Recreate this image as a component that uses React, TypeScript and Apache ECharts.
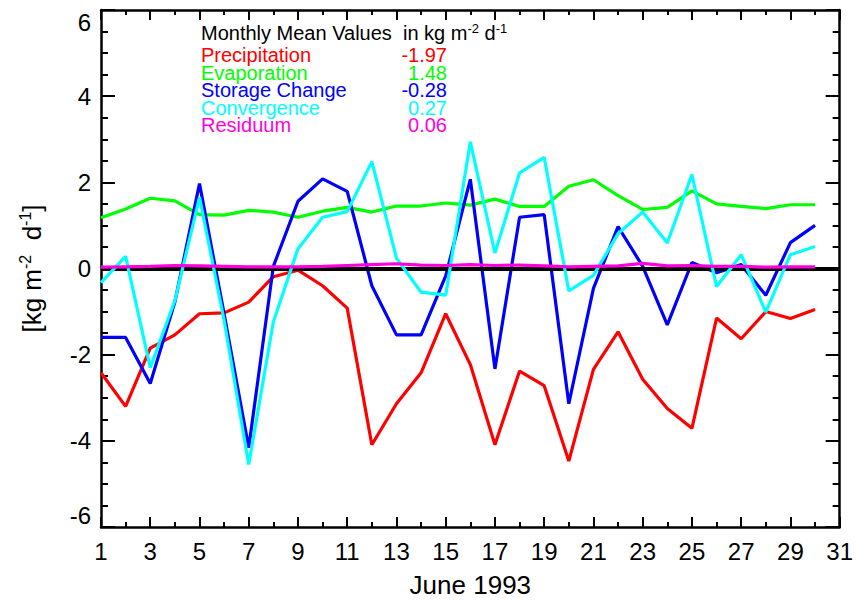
import React, { useEffect, useRef } from 'react';
import * as echarts from 'echarts';

const days = [1, 2, 3, 4, 5, 6, 7, 8, 9, 10, 11, 12, 13, 14, 15, 16, 17, 18, 19, 20, 21, 22, 23, 24, 25, 26, 27, 28, 29, 30];

const precipitation = [-2.42, -3.2, -1.85, -1.54, -1.05, -1.03, -0.78, -0.19, -0.04, -0.4, -0.92, -4.09, -3.14, -2.42, -1.05, -2.23, -4.09, -2.38, -2.72, -4.47, -2.34, -1.47, -2.57, -3.25, -3.71, -1.15, -1.63, -1.0, -1.16, -0.95];
const evaporation = [1.18, 1.38, 1.63, 1.57, 1.25, 1.24, 1.35, 1.31, 1.19, 1.33, 1.42, 1.31, 1.45, 1.45, 1.52, 1.47, 1.61, 1.44, 1.44, 1.91, 2.06, 1.69, 1.37, 1.42, 1.8, 1.5, 1.44, 1.39, 1.48, 1.48];
const storageChange = [-1.6, -1.6, -2.67, -0.78, 1.97, -1.05, -4.16, 0.05, 1.56, 2.08, 1.79, -0.4, -1.54, -1.54, -0.17, 2.07, -2.33, 1.19, 1.25, -3.14, -0.46, 0.97, 0.05, -1.31, 0.14, -0.1, 0.09, -0.62, 0.6, 1.0];
const convergence = [-0.33, 0.28, -2.3, -0.75, 1.65, -1.2, -4.55, -1.24, 0.46, 1.19, 1.32, 2.48, 0.24, -0.55, -0.62, 2.94, 0.36, 2.22, 2.58, -0.52, -0.16, 0.81, 1.31, 0.59, 2.18, -0.42, 0.32, -1.01, 0.32, 0.51];
const residuum = [0.03, 0.04, 0.05, 0.07, 0.06, 0.05, 0.04, 0.04, 0.04, 0.05, 0.07, 0.09, 0.11, 0.08, 0.07, 0.09, 0.07, 0.08, 0.06, 0.04, 0.05, 0.06, 0.12, 0.06, 0.07, 0.05, 0.05, 0.03, 0.04, 0.04];

const seriesNames = ['Precipitation', 'Evaporation', 'Storage Change', 'Convergence', 'Residuum'];
const monthlyMeans = ['-1.97', '1.48', '-0.28', '0.27', '0.06'];
const seriesColors = ['#ff0000', '#00ff00', '#0000ff', '#00ffff', '#ff00dd'];

const xMin = 1;
const xMax = 31;
const xInterval = 2;
const yMin = -6;
const yMax = 6;
const yInterval = 2;

const FONT = '"Liberation Sans", Arial, Helvetica, sans-serif';

export default function App() {
  const ref = useRef<HTMLDivElement>(null);

  useEffect(() => {
    if (!ref.current) return;
    const chart = echarts.init(ref.current, undefined, { renderer: 'svg' });
    const allValues = [precipitation, evaporation, storageChange, convergence, residuum];

    const axisLine = { show: true, onZero: false, lineStyle: { color: '#000', width: 2.5 } };

    const xCommon = {
      type: 'value' as const,
      min: xMin,
      max: xMax,
      interval: xInterval,
      axisLine,
      axisTick: { show: true, inside: true, length: 10, lineStyle: { color: '#000', width: 2 } },
      minorTick: { show: true, splitNumber: 2, length: 5, lineStyle: { color: '#000', width: 2 } },
      splitLine: { show: false },
      minorSplitLine: { show: false },
    };
    const yCommon = {
      type: 'value' as const,
      min: yMin,
      max: yMax,
      interval: yInterval,
      axisLine,
      axisTick: { show: true, inside: true, length: 14, lineStyle: { color: '#000', width: 2 } },
      minorTick: { show: true, splitNumber: 4, length: 7, lineStyle: { color: '#000', width: 2 } },
      splitLine: { show: false },
      minorSplitLine: { show: false },
    };

    const series: any[] = allValues.map((vals, i) => ({
      name: seriesNames[i],
      type: 'line',
      xAxisIndex: 0,
      yAxisIndex: 0,
      data: days.map((d, j) => [d, vals[j]]),
      symbol: 'none',
      z: i === 0 ? 1 : 2 + i,
      lineStyle: { color: seriesColors[i], width: 3.2 },
      itemStyle: { color: seriesColors[i] },
      ...(i === 0
        ? {
            markLine: {
              silent: true,
              symbol: 'none',
              label: { show: false },
              lineStyle: { color: '#000', width: 4, type: 'solid' },
              data: [{ yAxis: 0 }],
            },
          }
        : {}),
    }));

    const legendRows = seriesNames.map((name, i) => ({
      type: 'group',
      children: [
        {
          type: 'text',
          x: 201,
          y: 55 + i * 17.5,
          style: { text: name, fill: seriesColors[i], fontSize: 20, fontFamily: FONT, verticalAlign: 'middle', align: 'left' },
        },
        {
          type: 'text',
          x: 447,
          y: 55 + i * 17.5,
          style: { text: monthlyMeans[i], fill: seriesColors[i], fontSize: 20, fontFamily: FONT, verticalAlign: 'middle', align: 'right' },
        },
      ],
    }));

    chart.setOption({
      animation: false,
      backgroundColor: '#fff',
      grid: { left: 101, right: 16, top: 10, bottom: 67, containLabel: false },
      xAxis: [
        {
          ...xCommon,
          position: 'bottom',
          name: 'June 1993',
          nameLocation: 'middle',
          nameGap: 45,
          nameTextStyle: { color: '#000', fontSize: 26, fontFamily: FONT },
          axisLabel: { show: true, color: '#000', fontSize: 24, fontFamily: FONT, margin: 12 },
        },
        {
          ...xCommon,
          position: 'top',
          axisLabel: { show: false },
        },
      ],
      yAxis: [
        {
          ...yCommon,
          position: 'left',
          name: '{a|[kg m}{s|-2}{a|  d}{s|-1}{a|]}',
          nameLocation: 'middle',
          nameGap: 54,
          nameRotate: 90,
          nameTextStyle: {
            color: '#000',
            fontFamily: FONT,
            fontSize: 26,
            rich: {
              a: { fontSize: 26, fontFamily: FONT, color: '#000', lineHeight: 30 },
              s: { fontSize: 16, fontFamily: FONT, color: '#000', verticalAlign: 'top', lineHeight: 30 },
            },
          },
          axisLabel: {
            show: true,
            color: '#000',
            fontSize: 24,
            fontFamily: FONT,
            margin: 10,
            verticalAlignMinLabel: 'bottom',
            verticalAlignMaxLabel: 'top',
          },
        },
        {
          ...yCommon,
          position: 'right',
          axisLabel: { show: false },
        },
      ],
      graphic: [
        {
          type: 'text',
          x: 201,
          y: 33,
          style: {
            text: '{a|Monthly Mean Values  in kg m}{s|-2}{a| d}{s|-1}',
            fontSize: 20,
            fontFamily: FONT,
            fill: '#000',
            verticalAlign: 'middle',
            rich: {
              a: { fontSize: 20, fontFamily: FONT, fill: '#000', color: '#000', lineHeight: 22 },
              s: { fontSize: 13, fontFamily: FONT, fill: '#000', color: '#000', verticalAlign: 'top', lineHeight: 22 },
            },
          },
        },
        ...legendRows,
      ],
      series,
    });

    return () => chart.dispose();
  }, []);

  return <div ref={ref} style={{ position: 'fixed', left: 0, top: 0, width: 856, height: 603 }} />;
}
